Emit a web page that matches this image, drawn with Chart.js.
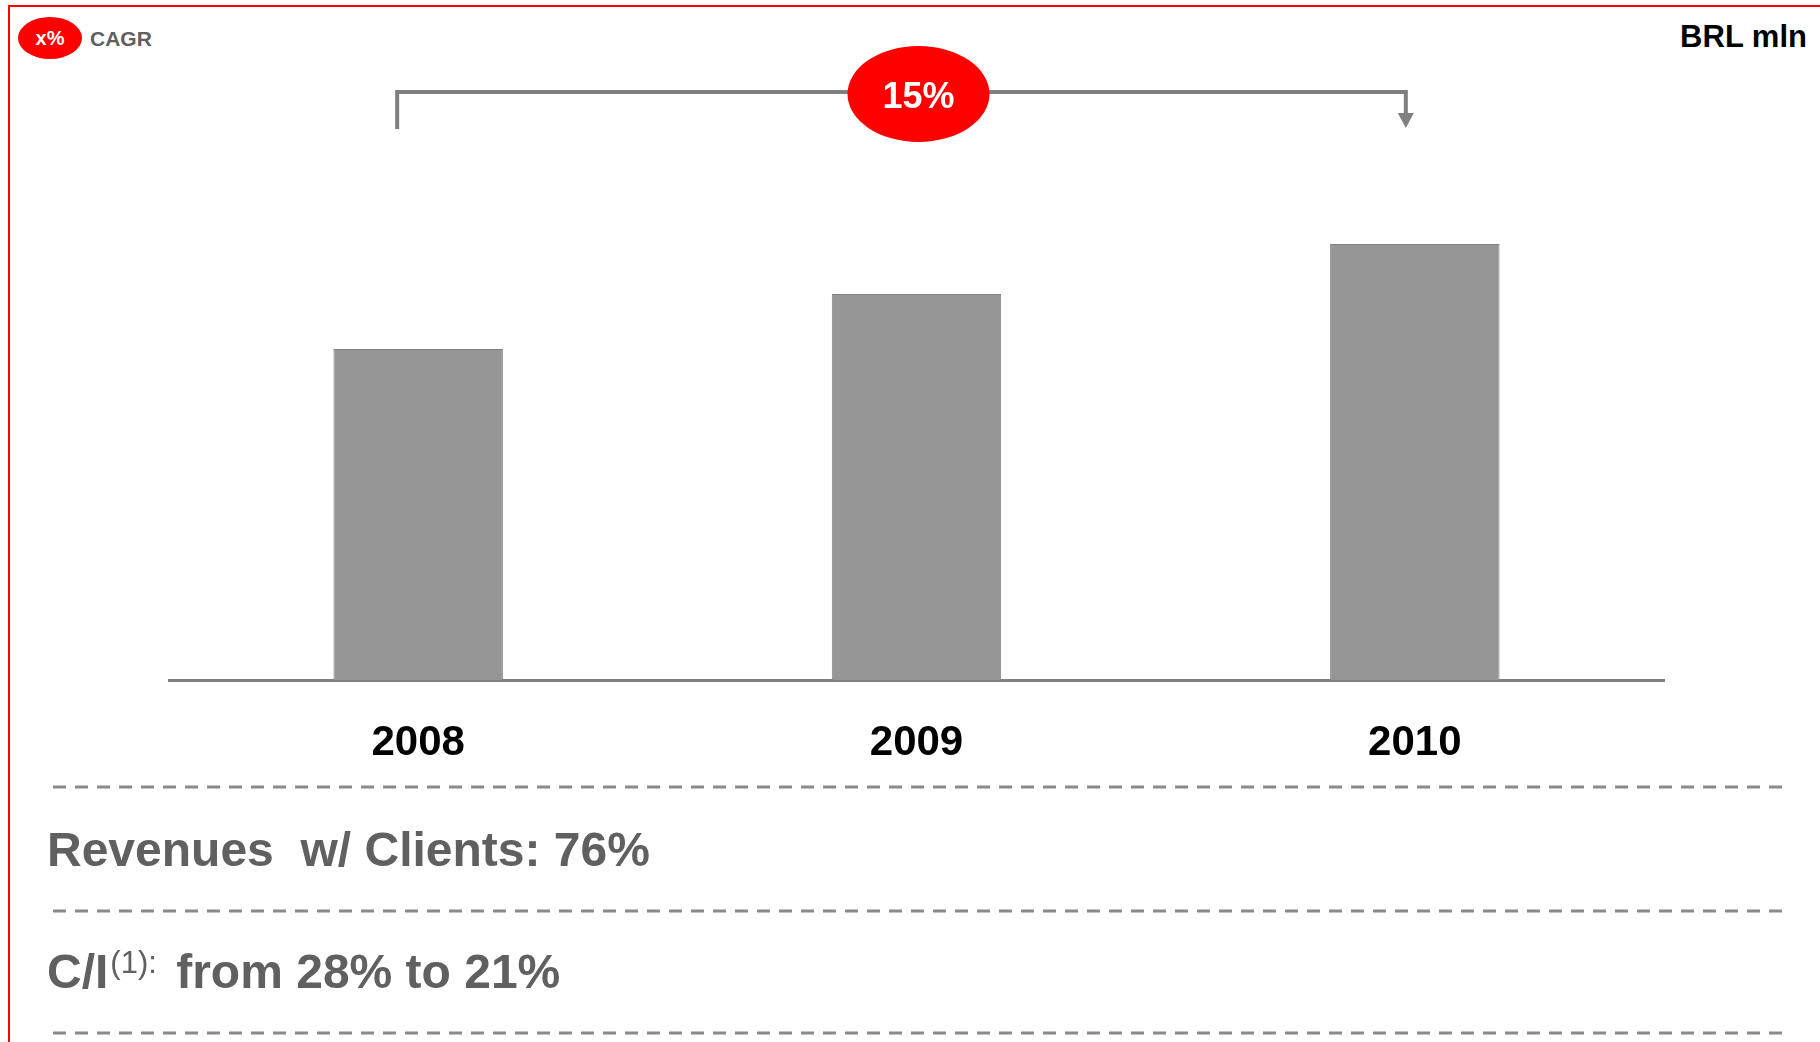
<!DOCTYPE html>
<html>
<head>
<meta charset="utf-8">
<title>BRL mln</title>
<script src="https://cdn.jsdelivr.net/npm/chart.js@4.4.0/dist/chart.umd.min.js"></script>
<style>
  html, body { margin: 0; padding: 0; background: #fff; }
  body { width: 1820px; height: 1042px; position: relative; overflow: hidden;
         font-family: 'Liberation Sans', Arial, sans-serif; }
  .frame { position: absolute; left: 8px; top: 5px; right: -10px; bottom: -10px;
           border-top: 2px solid #ff0000; border-left: 2px solid #ff0000; }
  .badge { position: absolute; left: 18px; top: 17px; width: 64px; height: 42px;
           border-radius: 50%; background: #ff0000; color: #fff; font-weight: bold;
           font-size: 20px; display: flex; align-items: center; justify-content: center; }
  .cagr { position: absolute; left: 90px; top: 28px; font-size: 21px; line-height: 21px;
          font-weight: bold; color: #606060; }
  .unit { position: absolute; right: 13px; top: 21px; font-size: 31px; line-height: 31px;
          font-weight: bold; color: #000; }
  .wrap { position: absolute; left: 0; top: 0; width: 1820px; height: 800px; }
  .note { position: absolute; left: 47px; font-size: 48px; line-height: 48px;
          font-weight: bold; color: #606060; white-space: pre; }
  .note sup { font-size: 31px; font-weight: normal; vertical-align: 0; position: relative;
              top: -15px; margin-left: 2px; margin-right: 6px; }
  svg.rules { position: absolute; left: 0; top: 0; }
</style>
</head>
<body>
<div class="frame"></div>
<div class="badge">x%</div>
<div class="cagr">CAGR</div>
<div class="unit">BRL mln</div>

<div class="wrap"><canvas id="revChart"></canvas></div>

<svg class="rules" width="1820" height="1042">
  <g stroke="#8a8a8a" stroke-width="3" stroke-dasharray="13 9">
    <line x1="53" y1="787" x2="1783" y2="787"/>
    <line x1="53" y1="911" x2="1783" y2="911"/>
    <line x1="53" y1="1033" x2="1783" y2="1033"/>
  </g>
</svg>
<div class="note" style="top:826px">Revenues  w/ Clients: 76%</div>
<div class="note" style="top:948px">C/I<sup>(1):</sup> from 28% to 21%</div>

<script>
// revenues by year (BRL mln)
const years    = ['2008', '2009', '2010'];
const revenues = [331, 386, 436];
const yMax     = 530;
const cagrText = '15%';

const grey = '#7f7f7f';

// bracket from first to last bar with the CAGR bubble in the middle
const cagrBracket = {
  id: 'cagrBracket',
  afterDraw(chart) {
    const c  = chart.ctx;
    const xs = chart.scales.x;
    const x0 = xs.getPixelForValue(0) - 21;
    const x1 = xs.getPixelForValue(years.length - 1) - 9;
    const y  = 92;
    c.save();
    c.strokeStyle = grey;
    c.fillStyle = grey;
    c.lineWidth = 4;
    c.beginPath();
    c.moveTo(x0, 129);
    c.lineTo(x0, y);
    c.lineTo(x1, y);
    c.lineTo(x1, 114);
    c.stroke();
    c.beginPath();
    c.moveTo(x1 - 8, 113);
    c.lineTo(x1 + 8, 113);
    c.lineTo(x1, 128);
    c.closePath();
    c.fill();

    const cx = (x0 + x1) / 2 + 17;
    c.fillStyle = '#ff0000';
    c.beginPath();
    c.ellipse(cx, 94, 71, 48, 0, 0, Math.PI * 2);
    c.fill();
    c.fillStyle = '#fff';
    c.font = 'bold 36px "Liberation Sans", Arial, sans-serif';
    c.textAlign = 'center';
    c.textBaseline = 'alphabetic';
    c.fillText(cagrText, cx, 108);
    c.restore();
  }
};

new Chart(document.getElementById('revChart'), {
  type: 'bar',
  data: {
    labels: years,
    datasets: [{
      data: revenues,
      backgroundColor: '#969696',
      borderColor: '#808080',
      borderWidth: 1,
      barPercentage: 0.34,
      categoryPercentage: 1
    }]
  },
  options: {
    responsive: true,
    maintainAspectRatio: false,
    animation: false,
    layout: { padding: { left: 169, right: 156, top: 150, bottom: 0 } },
    plugins: { legend: { display: false }, tooltip: { enabled: false } },
    scales: {
      x: {
        grid: { display: false, drawTicks: false },
        border: { color: grey, width: 3 },
        ticks: {
          color: '#000',
          padding: 38,
          maxRotation: 0,
          autoSkip: false,
          font: { family: '"Liberation Sans", Arial, sans-serif', size: 42, weight: 'bold' }
        },
        afterFit: s => { s.height = 120; }
      },
      y: { display: false, min: 0, max: yMax }
    }
  },
  plugins: [cagrBracket]
});
</script>
</body>
</html>
